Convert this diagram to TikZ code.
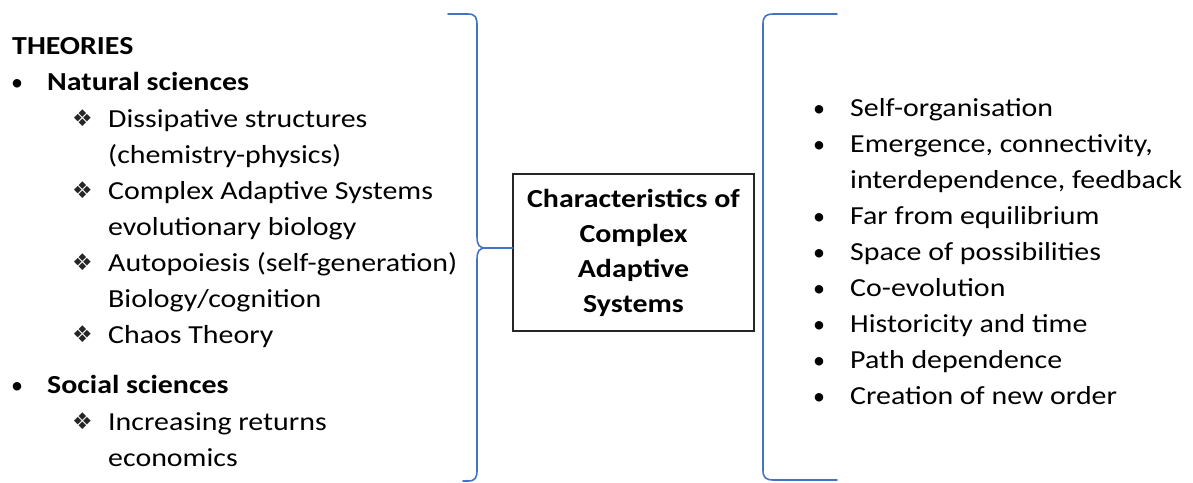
\documentclass[tikz,border=0pt]{standalone}
\usepackage{fontspec}
\setmainfont[FakeStretch=1.15]{Carlito}
\newfontfamily\symfont{DejaVu Sans}
\newfontfamily\bulfont{Carlito}
\definecolor{braceblue}{RGB}{68,114,196}
\begin{document}
\begin{tikzpicture}[x=1pt,y=-1pt,
  txt/.style={anchor=base west, inner sep=0pt, font=\fontsize{26}{31}\selectfont},
  hd/.style={anchor=base west, inner sep=0pt, font=\fontsize{26}{31}\selectfont\bfseries},
  bul/.style={anchor=base west, inner sep=0pt, font=\bulfont\fontsize{24}{28}\selectfont},
  orn/.style={anchor=base west, inner sep=0pt, font=\symfont\fontsize{23}{26}\selectfont, text=black!85},
  brace/.style={draw=braceblue, line width=1.6pt, line join=round, line cap=round},
  boxed/.style={draw=black!85, line width=1.3pt, minimum width=241pt, minimum height=157pt,
    align=center, inner sep=0pt, font=\fontsize{26}{35}\selectfont\bfseries}]
\useasboundingbox (0,0) rectangle (1193,482);

% left column: theories
\node[hd]  (theo)  at (12,54)  {THEORIES};
\node[bul] (b1)    at (11,90)  {•};
\node[hd]  (nat)   at (47,90)  {Natural sciences};
\node[orn] (o1)    at (72,126) {❖};
\node[txt] (t1a)   at (108,127) {Dissipative structures};
\node[txt] (t1b)   at (108,163) {(chemistry-physics)};
\node[orn] (o2)    at (72,198) {❖};
\node[txt] (t2a)   at (108,199) {Complex Adaptive Systems};
\node[txt] (t2b)   at (108,235) {evolutionary biology};
\node[orn] (o3)    at (72,270) {❖};
\node[txt] (t3a)   at (108,271) {Autopoiesis (self-generation)};
\node[txt] (t3b)   at (108,307) {Biology/cognition};
\node[orn] (o4)    at (72,342) {❖};
\node[txt] (t4)    at (108,343) {Chaos Theory};
\node[bul] (b2)    at (11,393) {•};
\node[hd]  (soc)   at (47,393) {Social sciences};
\node[orn] (o5)    at (72,429) {❖};
\node[txt] (t5a)   at (108,430) {Increasing returns};
\node[txt] (t5b)   at (108,466) {economics};

% central box
\node[boxed] (box) at (633.5,252.5) {Characteristics of\\Complex\\Adaptive\\Systems};

% left brace pointing at the box
\coordinate (tip) at (box.west |- 0,248);
\draw[brace] (448,14) -- (468,14) .. controls (476,14) and (477,18) .. (477,26)
  -- (477,236) .. controls (477,245) and (479,248) .. (486,248) -- (tip);
\draw[brace] (tip) -- (486,248) .. controls (479,248) and (477,251) .. (477,260)
  -- (477,470) .. controls (477,478) and (475,481) .. (468,481) -- (463,481);

% right bracket
\draw[brace] (837,14) -- (774,14) .. controls (766,14) and (763,16) .. (763,24)
  -- (763,470) .. controls (763,478) and (766,480) .. (774,480) -- (837,480);

% right column: characteristics
\foreach \y/\n in {116/c1,152/c2,224/c3,260/c4,296/c5,332/c6,368/c7,404/c8}
  \node[bul] (d\n) at (813,\y) {•};
\node[txt] (c1)  at (850,116) {Self-organisation};
\node[txt] (c2a) at (850,152) {Emergence, connectivity,};
\node[txt] (c2b) at (850,188) {interdependence, feedback};
\node[txt] (c3)  at (850,224) {Far from equilibrium};
\node[txt] (c4)  at (850,260) {Space of possibilities};
\node[txt] (c5)  at (850,296) {Co-evolution};
\node[txt] (c6)  at (850,332) {Historicity and time};
\node[txt] (c7)  at (850,368) {Path dependence};
\node[txt] (c8)  at (850,404) {Creation of new order};
\end{tikzpicture}
\end{document}
